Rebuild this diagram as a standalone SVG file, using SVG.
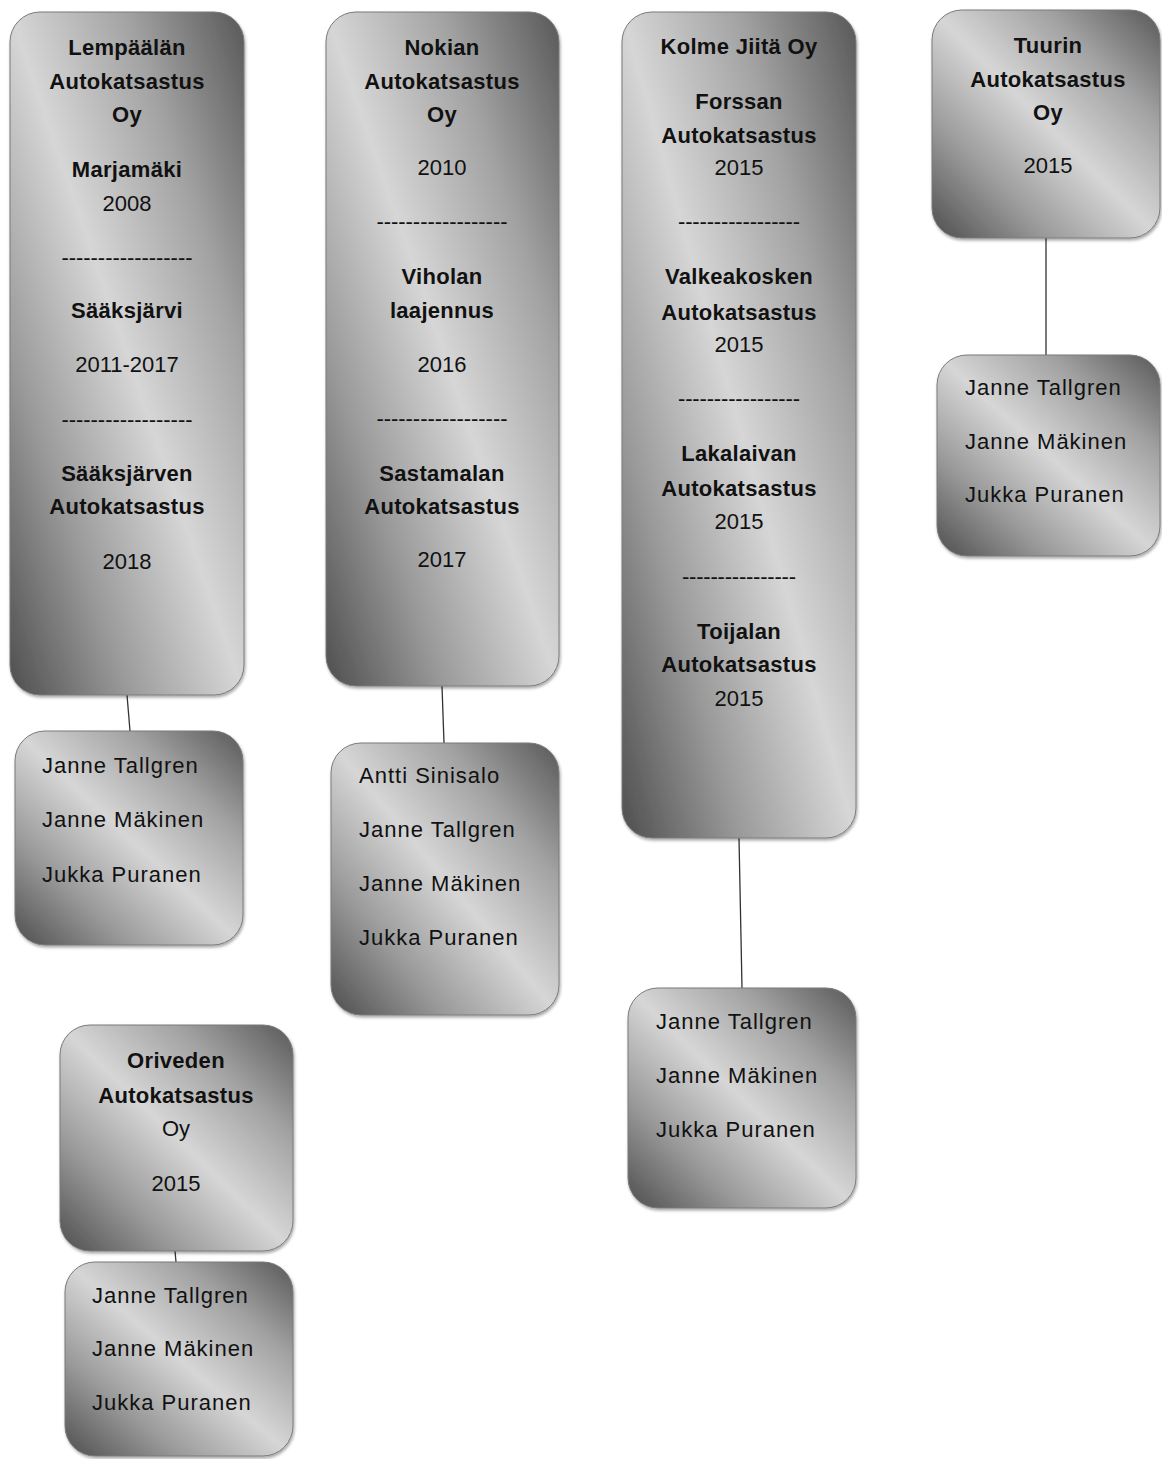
<svg xmlns="http://www.w3.org/2000/svg" width="1162" height="1459" viewBox="0 0 1162 1459">
<defs>
<linearGradient id="g" x1="0" y1="1" x2="1" y2="0">
<stop offset="0" stop-color="#4e4e4e"/>
<stop offset="0.25" stop-color="#999"/>
<stop offset="0.5" stop-color="#d6d6d6"/>
<stop offset="0.75" stop-color="#a2a2a2"/>
<stop offset="1" stop-color="#585858"/>
</linearGradient>
<filter id="sh" x="-10%" y="-10%" width="120%" height="120%">
<feDropShadow dx="1" dy="2" stdDeviation="1.5" flood-color="#000" flood-opacity="0.35"/>
</filter>
</defs>
<style>
.box{fill:url(#g);stroke:#7a7a7a;stroke-width:1;filter:url(#sh)}
text{font-family:"Liberation Sans",Arial,sans-serif;font-size:22px;fill:#111}
.c{text-anchor:middle}
.b{font-weight:bold;letter-spacing:0.3px}
.n{letter-spacing:1px}
.con{stroke:#333;stroke-width:1.3;fill:none}
</style>
<rect width="1162" height="1459" fill="#fff"/>
<g id="connectors">
<line class="con" x1="127" y1="695" x2="130" y2="731"/>
<line class="con" x1="442" y1="686" x2="444" y2="743"/>
<line class="con" x1="739" y1="838" x2="742" y2="988"/>
<line class="con" x1="1046" y1="238" x2="1046" y2="355"/>
<line class="con" x1="175" y1="1251" x2="176" y2="1262"/>
</g>
<g id="lempaala">
<rect class="box" x="10" y="12" width="234" height="683" rx="30"/>
<text class="c b" x="127" y="55">Lempäälän</text>
<text class="c b" x="127" y="89">Autokatsastus</text>
<text class="c b" x="127" y="122">Oy</text>
<text class="c b" x="127" y="177">Marjamäki</text>
<text class="c" x="127" y="211">2008</text>
<text class="c" x="127" y="265" textLength="131" lengthAdjust="spacing">------------------</text>
<text class="c b" x="127" y="318">Sääksjärvi</text>
<text class="c" x="127" y="372">2011-2017</text>
<text class="c" x="127" y="427" textLength="131" lengthAdjust="spacing">------------------</text>
<text class="c b" x="127" y="481">Sääksjärven</text>
<text class="c b" x="127" y="514">Autokatsastus</text>
<text class="c" x="127" y="569">2018</text>
</g>
<g id="lempaala-people">
<rect class="box" x="15" y="731" width="228" height="214" rx="30"/>
<text class="n" x="42" y="773">Janne Tallgren</text>
<text class="n" x="42" y="827">Janne Mäkinen</text>
<text class="n" x="42" y="882">Jukka Puranen</text>
</g>
<g id="nokia">
<rect class="box" x="326" y="12" width="233" height="674" rx="30"/>
<text class="c b" x="442" y="55">Nokian</text>
<text class="c b" x="442" y="89">Autokatsastus</text>
<text class="c b" x="442" y="122">Oy</text>
<text class="c" x="442" y="175">2010</text>
<text class="c" x="442" y="229" textLength="131" lengthAdjust="spacing">------------------</text>
<text class="c b" x="442" y="284">Viholan</text>
<text class="c b" x="442" y="318">laajennus</text>
<text class="c" x="442" y="372">2016</text>
<text class="c" x="442" y="426" textLength="131" lengthAdjust="spacing">------------------</text>
<text class="c b" x="442" y="481">Sastamalan</text>
<text class="c b" x="442" y="514">Autokatsastus</text>
<text class="c" x="442" y="567">2017</text>
</g>
<g id="nokia-people">
<rect class="box" x="331" y="743" width="228" height="272" rx="30"/>
<text class="n" x="359" y="783">Antti Sinisalo</text>
<text class="n" x="359" y="837">Janne Tallgren</text>
<text class="n" x="359" y="891">Janne Mäkinen</text>
<text class="n" x="359" y="945">Jukka Puranen</text>
</g>
<g id="kolmejiita">
<rect class="box" x="622" y="12" width="234" height="826" rx="30"/>
<text class="c b" x="739" y="54">Kolme Jiitä Oy</text>
<text class="c b" x="739" y="109">Forssan</text>
<text class="c b" x="739" y="143">Autokatsastus</text>
<text class="c" x="739" y="175">2015</text>
<text class="c" x="739" y="229" textLength="122" lengthAdjust="spacing">-----------------</text>
<text class="c b" x="739" y="284">Valkeakosken</text>
<text class="c b" x="739" y="320">Autokatsastus</text>
<text class="c" x="739" y="352">2015</text>
<text class="c" x="739" y="406" textLength="122" lengthAdjust="spacing">-----------------</text>
<text class="c b" x="739" y="461">Lakalaivan</text>
<text class="c b" x="739" y="496">Autokatsastus</text>
<text class="c" x="739" y="529">2015</text>
<text class="c" x="739" y="584" textLength="114" lengthAdjust="spacing">----------------</text>
<text class="c b" x="739" y="639">Toijalan</text>
<text class="c b" x="739" y="672">Autokatsastus</text>
<text class="c" x="739" y="706">2015</text>
</g>
<g id="kolmejiita-people">
<rect class="box" x="628" y="988" width="228" height="220" rx="30"/>
<text class="n" x="656" y="1029">Janne Tallgren</text>
<text class="n" x="656" y="1083">Janne Mäkinen</text>
<text class="n" x="656" y="1137">Jukka Puranen</text>
</g>
<g id="tuuri">
<rect class="box" x="932" y="10" width="228" height="228" rx="30"/>
<text class="c b" x="1048" y="53">Tuurin</text>
<text class="c b" x="1048" y="87">Autokatsastus</text>
<text class="c b" x="1048" y="120">Oy</text>
<text class="c" x="1048" y="173">2015</text>
</g>
<g id="tuuri-people">
<rect class="box" x="937" y="355" width="223" height="201" rx="30"/>
<text class="n" x="965" y="395">Janne Tallgren</text>
<text class="n" x="965" y="449">Janne Mäkinen</text>
<text class="n" x="965" y="502">Jukka Puranen</text>
</g>
<g id="orivesi">
<rect class="box" x="60" y="1025" width="233" height="226" rx="30"/>
<text class="c b" x="176" y="1068">Oriveden</text>
<text class="c b" x="176" y="1103">Autokatsastus</text>
<text class="c" x="176" y="1136">Oy</text>
<text class="c" x="176" y="1191">2015</text>
</g>
<g id="orivesi-people">
<rect class="box" x="65" y="1262" width="228" height="194" rx="30"/>
<text class="n" x="92" y="1303">Janne Tallgren</text>
<text class="n" x="92" y="1356">Janne Mäkinen</text>
<text class="n" x="92" y="1410">Jukka Puranen</text>
</g>
</svg>
